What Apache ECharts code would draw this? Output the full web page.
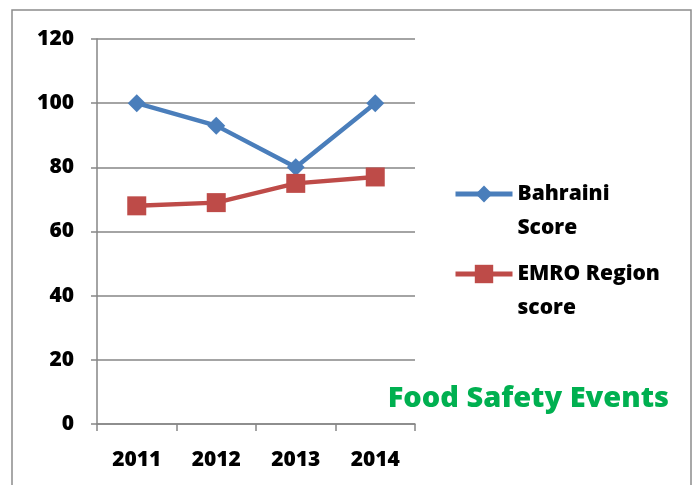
<!DOCTYPE html>
<html>
<head>
<meta charset="utf-8">
<script src="https://cdn.jsdelivr.net/npm/echarts@6/dist/echarts.min.js"></script>
<style>
  html, body { margin: 0; padding: 0; background: #fff; }
  #main { width: 699px; height: 485px; }
</style>
</head>
<body>
<div id="main"></div>
<script>
// chart data
var years = ["2011", "2012", "2013", "2014"];
var bahrainiScore = [100, 93, 80, 100];
var emroScore = [68, 69, 75, 77];
var yTicks = [0, 20, 40, 60, 80, 100, 120];

var chartDom = document.getElementById("main");
var myChart = echarts.init(chartDom);
var labelFont = '"Open Sans", "Liberation Sans", sans-serif';

var option = {
  animation: false,
  backgroundColor: "#fff",
  graphic: [
    {
      type: "rect",
      shape: { x: 12, y: 10, width: 679, height: 500 },
      style: { fill: "none", stroke: "#8c8c8c", lineWidth: 1.5 },
      silent: true,
    },
  ],
  title: {
    text: "Food Safety Events",
    right: 30,
    top: 384,
    padding: 0,
    textStyle: {
      color: "#00B050",
      fontFamily: labelFont,
      fontWeight: 800,
      fontSize: 29,
    },
  },
  grid: {
    left: 97,
    right: 284,
    top: 39,
    bottom: 61,
  },
  legend: [
    {
      data: ["Bahraini Score"],
      left: 453,
      top: 143,
      padding: 0,
      itemWidth: 57,
      itemHeight: 21,
      lineStyle: { width: 5 },
      formatter: function () { return "\nBahraini\nScore"; },
      textStyle: { fontFamily: labelFont, fontWeight: 800, fontSize: 21, lineHeight: 34, color: "#000" },
    },
    {
      data: ["EMRO Region score"],
      left: 453,
      top: 223,
      padding: 0,
      itemWidth: 57,
      itemHeight: 23,
      lineStyle: { width: 5 },
      formatter: function () { return "\nEMRO Region\nscore"; },
      textStyle: { fontFamily: labelFont, fontWeight: 800, fontSize: 21, lineHeight: 34, color: "#000" },
    },
  ],
  xAxis: {
    type: "category",
    data: years,
    axisLine: { lineStyle: { color: "#868686", width: 1.5 } },
    axisTick: { show: true, length: 7, lineStyle: { color: "#868686", width: 1.5 } },
    axisLabel: {
      margin: 26,
      color: "#000",
      fontFamily: labelFont,
      fontWeight: 800,
      fontSize: 21,
    },
  },
  yAxis: {
    type: "value",
    min: yTicks[0],
    max: yTicks[yTicks.length - 1],
    interval: 20,
    axisLine: { show: true, lineStyle: { color: "#868686", width: 1.5 } },
    axisTick: { show: true, length: 6, lineStyle: { color: "#868686", width: 1.5 } },
    splitLine: { lineStyle: { color: "#868686", width: 1.5 } },
    axisLabel: {
      margin: 23,
      color: "#000",
      fontFamily: labelFont,
      fontWeight: 800,
      fontSize: 21,
    },
  },
  series: [
    {
      name: "Bahraini Score",
      type: "line",
      data: bahrainiScore,
      symbol: "diamond",
      symbolSize: 18,
      lineStyle: { color: "#4A7EBB", width: 4.5 },
      itemStyle: { color: "#4A7EBB" },
    },
    {
      name: "EMRO Region score",
      type: "line",
      data: emroScore,
      symbol: "rect",
      symbolSize: 19,
      lineStyle: { color: "#BE4B48", width: 4.5 },
      itemStyle: { color: "#BE4B48" },
    },
  ],
};
myChart.setOption(option);
</script>
</body>
</html>
